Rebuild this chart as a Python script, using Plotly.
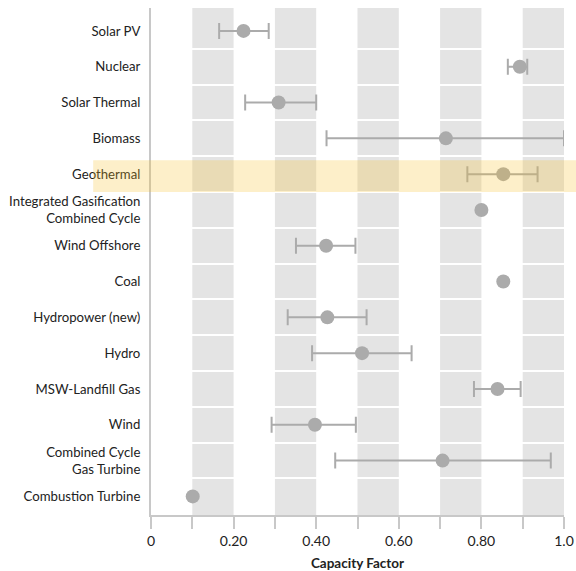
import plotly.graph_objects as go

# Capacity factor by generation technology: typical value plus low/high range
technologies = [
    "Solar PV", "Nuclear", "Solar Thermal", "Biomass", "Geothermal",
    "Integrated Gasification<br>Combined Cycle", "Wind Offshore", "Coal",
    "Hydropower (new)", "Hydro", "MSW-Landfill Gas", "Wind",
    "Combined Cycle<br>Gas Turbine", "Combustion Turbine",
]
capacity_factor = [0.224, 0.893, 0.309, 0.714, 0.853, 0.80, 0.424, 0.853,
                   0.427, 0.511, 0.839, 0.397, 0.706, 0.101]
range_low = [0.165, 0.864, 0.228, 0.425, 0.766, None, 0.351, None,
             0.331, 0.390, 0.782, 0.292, 0.446, None]
range_high = [0.285, 0.911, 0.400, 1.0, 0.936, None, 0.495, None,
              0.522, 0.631, 0.895, 0.496, 0.968, None]

x_tick_vals = [0, 0.1, 0.2, 0.3, 0.4, 0.5, 0.6, 0.7, 0.8, 0.9, 1.0]
x_tick_text = ["0", "", "0.20", "", "0.40", "", "0.60", "", "0.80", "", "1.0"]
band_starts = [0.1, 0.3, 0.5, 0.7, 0.9]
highlight = "Geothermal"

rows = list(range(len(technologies)))

MARK = "#ababab"
FONT = "Lato, 'Open Sans', sans-serif"

# technologies with a reported range get error bars, the rest are single points
ranged = [i for i in rows if range_low[i] is not None]
single = [i for i in rows if range_low[i] is None]

fig = go.Figure()
fig.add_trace(go.Scatter(
    x=[capacity_factor[i] for i in ranged], y=ranged, mode="markers",
    marker=dict(size=14, color=MARK),
    error_x=dict(type="data",
                 array=[range_high[i] - capacity_factor[i] for i in ranged],
                 arrayminus=[capacity_factor[i] - range_low[i] for i in ranged],
                 symmetric=False, color=MARK, thickness=2, width=8),
    cliponaxis=False, showlegend=False,
))
fig.add_trace(go.Scatter(
    x=[capacity_factor[i] for i in single], y=single, mode="markers",
    marker=dict(size=14, color=MARK), cliponaxis=False, showlegend=False,
))

y_lo, y_hi = 13.52, -0.64

def ypaper(d):
    return (y_lo - d) / (y_lo - y_hi)

shapes = []
# alternating grey columns every 0.1
for b in band_starts:
    shapes.append(dict(type="rect", xref="x", yref="paper", x0=b, x1=b + 0.1,
                       y0=0, y1=1, fillcolor="#e4e4e4", line_width=0, layer="below"))
# highlighted row spanning past the plot edges
hi = technologies.index(highlight)
shapes.append(dict(type="rect", xref="paper", yref="paper",
                   x0=-0.14, x1=1.03, y0=ypaper(hi + 0.5), y1=ypaper(hi - 0.39),
                   fillcolor="rgba(246,190,40,0.25)", line_width=0, layer="above"))

fig.update_layout(
    width=576, height=571,
    margin=dict(l=151, r=12, t=8, b=56),
    plot_bgcolor="white", paper_bgcolor="white",
    font=dict(family=FONT, color="#222222", size=13),
    shapes=shapes,
    xaxis=dict(
        range=[0, 1.0], tickvals=x_tick_vals, ticktext=x_tick_text,
        ticks="outside", ticklen=12, tickwidth=1.5, tickcolor="#c8c8c8",
        showline=True, linecolor="#c8c8c8", linewidth=2,
        showgrid=False, zeroline=False, automargin=False,
        ticklabelstandoff=0,
        tickfont=dict(size=14, color="#222222"),
        title=dict(text="<b>Capacity Factor</b>", font=dict(size=13.5), standoff=18),
    ),
    yaxis=dict(
        range=[y_lo, y_hi], tickvals=rows, ticktext=technologies,
        ticks="", showgrid=False, zeroline=False, automargin=False,
        showline=True, linecolor="#c8c8c8", linewidth=2,
        ticklabelstandoff=6,
        tickfont=dict(size=13.2, color="#222222"),
        minor=dict(tickvals=[r + 0.5 for r in rows[:-1]], showgrid=True,
                   gridcolor="white", gridwidth=2, ticks=""),
    ),
)

fig.write_html("out.html")
